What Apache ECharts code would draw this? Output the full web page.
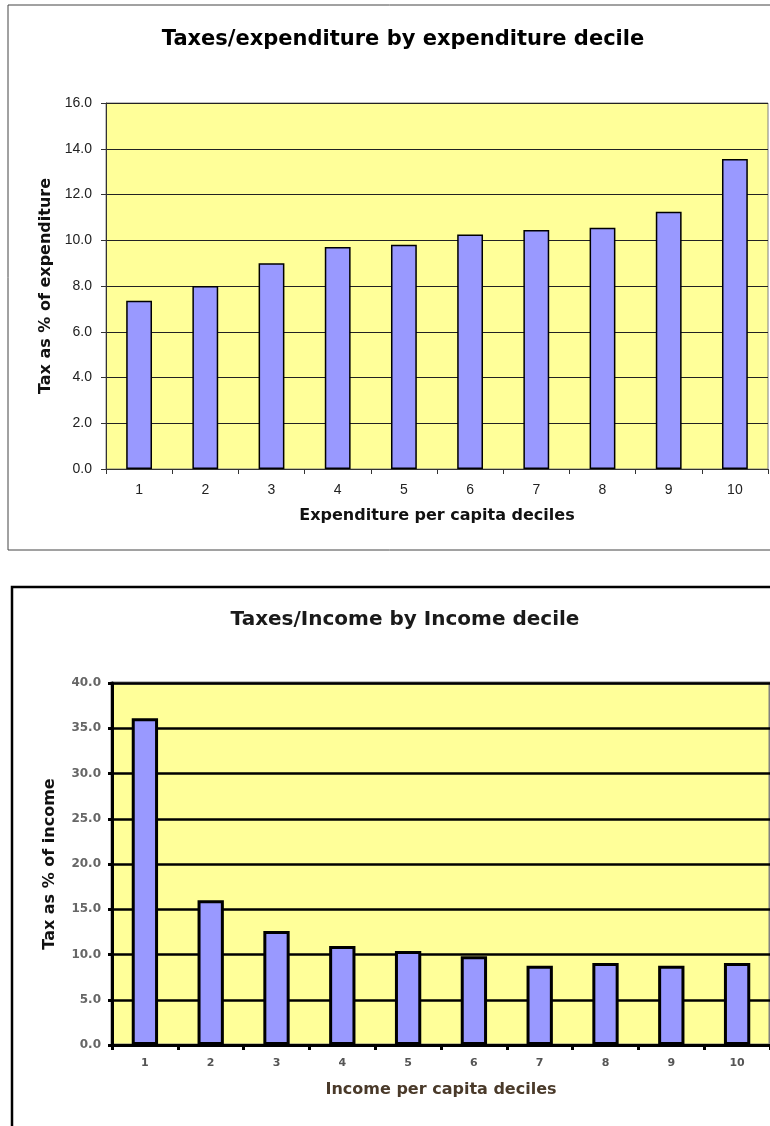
<!DOCTYPE html>
<html>
<head>
<meta charset="utf-8">
<script src="https://cdn.jsdelivr.net/npm/echarts@6/dist/echarts.min.js"></script>
<style>
html,body{margin:0;padding:0;background:#fff;}
#chart{width:770px;height:1126px;}
</style>
</head>
<body>
<div id="chart"></div>
<script>
var deciles = ['1','2','3','4','5','6','7','8','9','10'];
var taxPctExpenditure = [7.35, 8.0, 9.0, 9.7, 9.8, 10.25, 10.45, 10.55, 11.25, 13.55];
var taxPctIncome = [36.1, 16.0, 12.6, 10.95, 10.4, 9.8, 8.75, 9.05, 8.75, 9.05];

var titleTop = 'Taxes/expenditure by expenditure decile';
var titleBottom = 'Taxes/Income by Income decile';
var xNameTop = 'Expenditure per capita deciles';
var yNameTop = 'Tax as % of expenditure';
var xNameBottom = 'Income per capita deciles';
var yNameBottom = 'Tax as % of income';

var chart = echarts.init(document.getElementById('chart'), null, {renderer: 'canvas'});
var fontMain = 'Liberation Sans, Arial, sans-serif';
var fontWide = 'DejaVu Sans, sans-serif';

chart.setOption({
  animation: false,
  backgroundColor: '#ffffff',
  graphic: [
    {type: 'rect', shape: {x: 8, y: 5, width: 800, height: 545}, style: {fill: 'none', stroke: '#444', lineWidth: 1}, z: 0},
    {type: 'rect', shape: {x: 12, y: 587, width: 800, height: 600}, style: {fill: 'none', stroke: '#000', lineWidth: 2.5}, z: 0}
  ],
  title: [
    {text: titleTop, left: 398, top: 24, textAlign: 'center',
     textStyle: {fontFamily: fontWide, fontWeight: 'bold', fontSize: 21, color: '#000'}},
    {text: titleBottom, left: 400, top: 605, textAlign: 'center',
     textStyle: {fontFamily: fontWide, fontWeight: 'bold', fontSize: 20, color: '#1a1a1a'}}
  ],
  grid: [
    {left: 106, top: 103, width: 662, height: 366, show: true, backgroundColor: '#FFFF99', borderColor: '#808080', borderWidth: 1},
    {left: 112, top: 683, width: 660, height: 362, show: true, backgroundColor: '#FFFF99', borderColor: '#808080', borderWidth: 3}
  ],
  xAxis: [
    {type: 'category', gridIndex: 0, data: deciles,
     name: xNameTop, nameLocation: 'middle', nameGap: 39,
     nameTextStyle: {fontFamily: fontWide, fontWeight: 'bold', fontSize: 16, color: '#111'},
     axisLine: {lineStyle: {color: '#333', width: 1}},
     axisTick: {show: true, length: 5, lineStyle: {color: '#333'}},
     axisLabel: {margin: 14, fontFamily: fontMain, fontSize: 14, color: '#222'}},
    {type: 'category', gridIndex: 1, data: deciles,
     name: xNameBottom, nameLocation: 'middle', nameGap: 37,
     nameTextStyle: {fontFamily: fontWide, fontWeight: 'bold', fontSize: 16, color: '#4a3a2a'},
     axisLine: {lineStyle: {color: '#000', width: 3}},
     axisTick: {show: true, length: 5, lineStyle: {color: '#000', width: 3}},
     axisLabel: {margin: 13, fontFamily: fontWide, fontSize: 11, fontWeight: 'bold', color: '#555'}}
  ],
  yAxis: [
    {type: 'value', gridIndex: 0, min: 0, max: 16, interval: 2,
     name: yNameTop, nameLocation: 'middle', nameGap: 52, nameRotate: 90,
     nameTextStyle: {fontFamily: fontWide, fontWeight: 'bold', fontSize: 16, color: '#111'},
     axisLine: {show: true, lineStyle: {color: '#333', width: 1}},
     axisTick: {show: true, length: 5, lineStyle: {color: '#333'}},
     splitLine: {show: true, lineStyle: {color: '#222', width: 1}},
     axisLabel: {margin: 14, fontFamily: fontMain, fontSize: 14, color: '#222',
                 formatter: function (v) { return v.toFixed(1); }}},
    {type: 'value', gridIndex: 1, min: 0, max: 40, interval: 5,
     name: yNameBottom, nameLocation: 'middle', nameGap: 54, nameRotate: 90,
     nameTextStyle: {fontFamily: fontWide, fontWeight: 'bold', fontSize: 16, color: '#111'},
     axisLine: {show: true, lineStyle: {color: '#000', width: 3}},
     axisTick: {show: true, length: 4, lineStyle: {color: '#000', width: 3}},
     splitLine: {show: true, lineStyle: {color: '#000', width: 2.5}},
     axisLabel: {margin: 11, fontFamily: fontWide, fontSize: 12, fontWeight: 'bold', color: '#666',
                 formatter: function (v) { return v.toFixed(1); }}}
  ],
  series: [
    {type: 'bar', xAxisIndex: 0, yAxisIndex: 0, data: taxPctExpenditure, barWidth: '39%',
     itemStyle: {color: '#9999FF', borderColor: '#000', borderWidth: 1.5}},
    {type: 'bar', xAxisIndex: 1, yAxisIndex: 1, data: taxPctIncome, barWidth: '40%',
     itemStyle: {color: '#9999FF', borderColor: '#000', borderWidth: 3}}
  ]
});
</script>
</body>
</html>
